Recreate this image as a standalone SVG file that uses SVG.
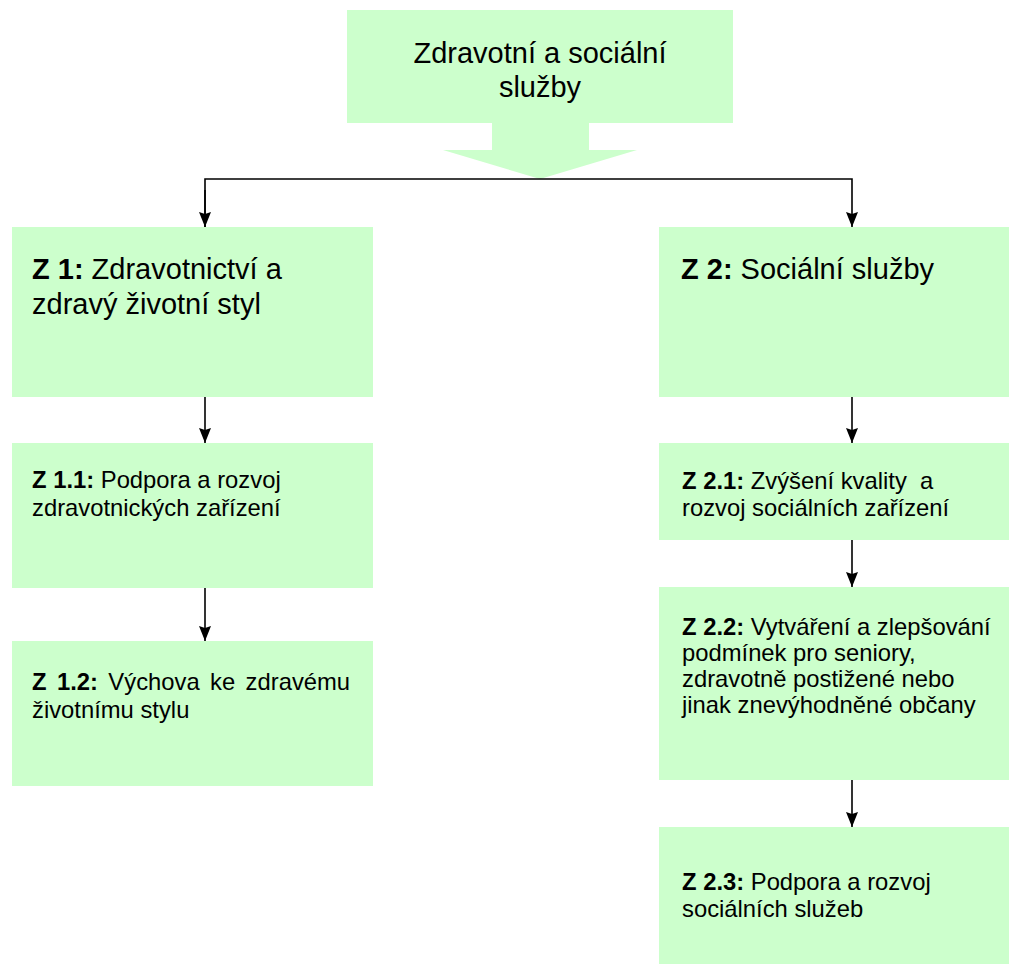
<svg xmlns="http://www.w3.org/2000/svg" width="1009" height="964" viewBox="0 0 1009 964">
<style>
.box{fill:#CCFFCC;stroke:none}
.t{font-family:"Liberation Sans",Arial,sans-serif;fill:#000}
.big{font-size:29px}
.sm{font-size:23.8px}
.b{font-weight:bold}
.c{stroke:#000;stroke-width:1.6;fill:none}
</style>
<defs>
<marker id="ah" viewBox="0 0 15 12" refX="15" refY="6" markerWidth="15" markerHeight="12" markerUnits="userSpaceOnUse" orient="auto">
<path d="M0,0 L15,6 L0,12 L2,6 z" fill="#000"/>
</marker>
</defs>
<rect width="1009" height="964" fill="#fff"/>
<g id="top">
<polygon class="box" points="347,10 733,10 733,123 589,123 589,150 637,150 540,179 443,150 492,150 492,123 347,123"/>
<text class="t big" x="540" y="63" text-anchor="middle">Zdravotní a sociální</text>
<text class="t big" x="540" y="97" text-anchor="middle">služby</text>
</g>
<g id="z1">
<rect class="box" x="12" y="227" width="361" height="170"/>
<text class="t big" x="32" y="279"><tspan class="b">Z 1:</tspan> Zdravotnictví a</text>
<text class="t big" x="32" y="314">zdravý životní styl</text>
</g>
<g id="z2">
<rect class="box" x="659" y="227" width="350" height="170"/>
<text class="t big" x="681" y="279"><tspan class="b">Z 2:</tspan> Sociální služby</text>
</g>
<g id="z11">
<rect class="box" x="12" y="443" width="361" height="145"/>
<text class="t sm" x="32" y="488"><tspan class="b">Z 1.1:</tspan> Podpora a rozvoj</text>
<text class="t sm" x="32" y="516">zdravotnických zařízení</text>
</g>
<g id="z12">
<rect class="box" x="12" y="641" width="361" height="145"/>
<text class="t sm" x="32" y="690" word-spacing="3.8"><tspan class="b">Z 1.2:</tspan> Výchova ke zdravému</text>
<text class="t sm" x="32" y="718">životnímu stylu</text>
</g>
<g id="z21">
<rect class="box" x="659" y="443" width="350" height="97"/>
<text class="t sm" x="682" y="489" xml:space="preserve"><tspan class="b">Z 2.1:</tspan> Zvýšení kvality  a</text>
<text class="t sm" x="682" y="516">rozvoj sociálních zařízení</text>
</g>
<g id="z22">
<rect class="box" x="659" y="587" width="350" height="193"/>
<text class="t sm" x="682" y="635"><tspan class="b">Z 2.2:</tspan> Vytváření a zlepšování</text>
<text class="t sm" x="682" y="661">podmínek pro seniory,</text>
<text class="t sm" x="682" y="687">zdravotně postižené nebo</text>
<text class="t sm" x="682" y="713">jinak znevýhodněné občany</text>
</g>
<g id="z23">
<rect class="box" x="659" y="827" width="350" height="137"/>
<text class="t sm" x="682" y="890"><tspan class="b">Z 2.3:</tspan> Podpora a rozvoj</text>
<text class="t sm" x="682" y="917">sociálních služeb</text>
</g>
<g id="connectors">
<polyline class="c" points="205,227 205,179 852,179 852,227" marker-end="url(#ah)"/>
<line class="c" x1="205" y1="190" x2="205" y2="227" marker-end="url(#ah)"/>
<line class="c" x1="205" y1="397" x2="205" y2="443" marker-end="url(#ah)"/>
<line class="c" x1="205" y1="588" x2="205" y2="641" marker-end="url(#ah)"/>
<line class="c" x1="852" y1="397" x2="852" y2="443" marker-end="url(#ah)"/>
<line class="c" x1="852" y1="540" x2="852" y2="587" marker-end="url(#ah)"/>
<line class="c" x1="852" y1="780" x2="852" y2="827" marker-end="url(#ah)"/>
</g>
</svg>
